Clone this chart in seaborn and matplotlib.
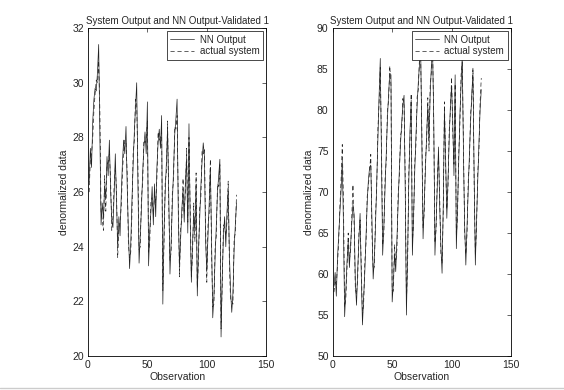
import numpy as np
import pandas as pd
import seaborn as sns
import matplotlib.pyplot as plt
from matplotlib.lines import Line2D

obs = np.arange(1, 126)

left_nn = [26.4, 27.6, 26.9, 28.6, 29.4, 29.8, 29.7, 30.4, 31.4, 28.1,
           24.8, 25.6, 25.0, 26.2, 25.8, 27.3, 26.6, 27.9, 26.1, 25.0,
           24.7, 25.9, 27.4, 25.7, 24.0, 25.1, 24.4, 25.9, 27.1, 27.9,
           27.4, 28.4, 26.2, 24.6, 23.2, 24.1, 25.7, 27.0, 28.2, 29.1,
           30.0, 26.4, 23.4, 24.4, 25.4, 26.7, 27.6, 28.2, 27.4, 29.3,
           23.3, 24.6, 25.3, 26.2, 24.8, 26.3, 25.1, 26.9, 27.8, 28.3,
           27.6, 28.8, 21.9, 24.6, 26.0, 27.1, 28.3, 25.9, 23.0, 24.2,
           25.6, 26.8, 28.1, 28.7, 29.4, 25.2, 23.3, 24.3, 25.4, 26.1,
           24.9, 26.4, 27.2, 24.5, 28.5, 25.0, 22.7, 24.1, 25.2, 24.6,
           26.3, 22.2, 23.9, 25.0, 26.2, 27.1, 27.8, 27.3, 24.2, 23.1,
           24.4, 25.6, 26.9, 24.3, 21.4, 22.2, 23.6, 24.8, 26.0, 26.6,
           27.2, 20.7, 22.9, 24.4, 25.1, 24.0, 25.3, 26.1, 23.8, 22.4,
           21.6, 22.3, 23.9, 24.8, 25.6]

left_actual = [26.0, 27.2, 27.4, 28.0, 29.0, 29.6, 30.1, 30.0, 30.8, 29.0,
               25.3, 25.0, 24.6, 26.6, 25.3, 27.0, 27.1, 27.4, 26.5, 24.6,
               25.1, 26.2, 26.9, 26.1, 23.6, 24.7, 24.9, 25.5, 26.7, 27.5,
               27.9, 27.8, 26.7, 24.1, 23.6, 23.8, 25.2, 27.4, 27.9, 29.4,
               29.2, 27.0, 23.9, 24.0, 25.8, 26.3, 27.9, 27.8, 27.9, 28.6,
               23.8, 24.2, 25.7, 25.8, 25.2, 25.9, 25.6, 26.5, 28.2, 27.9,
               28.0, 28.2, 22.4, 24.1, 26.4, 26.7, 28.6, 25.4, 23.5, 23.8,
               26.0, 26.4, 28.4, 28.3, 28.8, 25.7, 22.9, 24.7, 25.0, 26.5,
               25.3, 26.0, 27.6, 24.9, 28.0, 25.5, 22.9, 23.7, 25.6, 24.2,
               26.7, 22.5, 23.5, 25.4, 25.8, 27.5, 27.4, 27.6, 24.7, 22.7,
               24.8, 25.2, 27.2, 23.8, 21.8, 21.9, 24.0, 24.4, 26.3, 26.2,
               27.0, 21.0, 22.6, 24.8, 24.7, 24.4, 24.9, 26.4, 23.4, 22.0,
               22.0, 21.9, 24.3, 24.5, 25.9]

right_nn = [58.5, 60.2, 57.3, 62.0, 64.8, 67.5, 70.2, 73.8, 66.0, 54.8,
            58.0, 61.5, 64.0, 60.8, 63.5, 66.2, 68.5, 67.2, 59.0, 56.2,
            60.5, 64.2, 67.4, 59.8, 53.8, 57.2, 60.3, 64.6, 68.8, 71.5,
            73.0, 73.3, 66.5, 59.4, 61.8, 66.0, 71.2, 76.5, 81.8, 86.3,
            74.0, 62.3, 65.8, 70.4, 74.6, 78.9, 82.0, 84.5, 84.3, 56.6,
            58.8, 62.5, 60.3, 64.2, 68.5, 72.6, 75.8, 78.4, 80.6, 81.8,
            70.0, 55.0, 62.4, 71.2, 77.5, 81.2, 62.3, 67.0, 72.5, 76.8,
            80.5, 83.4, 85.6, 87.5, 76.0, 64.3, 68.6, 72.8, 77.0, 80.4,
            76.2, 82.0, 85.4, 87.3, 79.0, 62.3, 66.4, 70.8, 75.5, 68.2,
            63.5, 60.1, 68.5, 80.0, 74.2, 66.8, 71.5, 76.4, 80.5, 83.0,
            78.5, 72.0, 84.3, 63.1, 68.0, 73.5, 79.4, 83.2, 86.7, 74.5,
            66.0, 61.1, 65.8, 70.2, 74.6, 78.5, 82.0, 84.5, 72.0, 61.1,
            66.5, 71.2, 75.8, 80.0, 82.5]

right_actual = [57.8, 59.0, 58.6, 61.2, 64.0, 68.3, 71.5, 75.8, 69.0, 56.0,
                57.0, 60.7, 65.0, 61.8, 62.7, 67.0, 70.9, 66.0, 58.2, 57.5,
                59.6, 65.0, 66.6, 61.0, 55.0, 56.4, 61.5, 63.8, 69.5, 70.8,
                72.5, 74.6, 64.8, 60.5, 60.9, 67.2, 70.4, 77.8, 80.9, 85.2,
                76.0, 63.5, 64.9, 71.6, 73.8, 79.9, 81.2, 85.4, 83.0, 58.0,
                57.9, 63.6, 61.4, 63.0, 69.6, 71.8, 76.9, 77.5, 81.4, 80.6,
                71.8, 56.5, 61.2, 72.4, 76.4, 82.0, 63.8, 66.1, 73.6, 75.7,
                81.6, 82.5, 86.4, 86.2, 77.4, 65.6, 67.5, 73.9, 76.2, 81.5,
                75.0, 83.0, 84.6, 88.3, 78.0, 63.8, 65.5, 71.8, 74.5, 69.5,
                62.4, 61.3, 67.6, 81.0, 73.0, 67.9, 70.6, 77.5, 79.8, 84.0,
                77.2, 73.4, 83.2, 64.5, 67.1, 74.6, 78.3, 84.3, 85.8, 75.8,
                65.0, 62.4, 64.9, 71.3, 73.6, 79.6, 81.1, 85.2, 71.0, 62.3,
                65.6, 72.3, 74.9, 81.0, 83.9]

title = "System Output and NN Output-Validated 1"

sns.set_style("white")
plt.rcParams['font.family'] = ['Liberation Sans', 'DejaVu Sans']

fig = plt.figure(figsize=(5.64, 3.9), dpi=100)
ax1 = fig.add_axes([0.156, 0.087, 0.316, 0.841])
ax2 = fig.add_axes([0.590, 0.087, 0.316, 0.841])

panels = [(ax1, left_nn, left_actual, (20, 32), [20, 22, 24, 26, 28, 30, 32]),
          (ax2, right_nn, right_actual, (50, 90), [50, 55, 60, 65, 70, 75, 80, 85, 90])]

for ax, nn, act, ylim, yt in panels:
    df = pd.DataFrame({"Observation": obs, "nn": nn, "act": act})
    sns.lineplot(data=df, x="Observation", y="nn", ax=ax, color="#222222",
                 lw=0.5, label="NN Output")
    sns.lineplot(data=df, x="Observation", y="act", ax=ax, color="#222222",
                 lw=0.5, ls=(0, (6, 4)), label="actual system")
    ax.set_xlim(0, 150)
    ax.set_ylim(*ylim)
    ax.set_xticks([0, 50, 100, 150])
    ax.set_yticks(yt)
    ax.tick_params(direction="in", top=True, right=True, length=3,
                   width=0.5, labelsize=7.5, pad=3)
    for s in ax.spines.values():
        s.set_linewidth(0.6)
        s.set_color("black")
    ax.set_xlabel("Observation", fontsize=7.5, labelpad=1)
    ax.set_ylabel("denormalized data", fontsize=7.5, labelpad=2)
    ax.set_title(title, fontsize=7, pad=3)
    leg = ax.legend(loc="upper right", fontsize=7, frameon=True, fancybox=False,
                    handlelength=2.4, borderpad=0.35, labelspacing=0.15,
                    borderaxespad=0.35, handletextpad=0.6)
    leg.get_frame().set_edgecolor("black")
    leg.get_frame().set_linewidth(0.5)
    leg.get_frame().set_alpha(1)

fig.add_artist(Line2D([0, 1], [0.006, 0.006], color="#cccccc", lw=1))

fig.savefig("out.png", dpi=100)
